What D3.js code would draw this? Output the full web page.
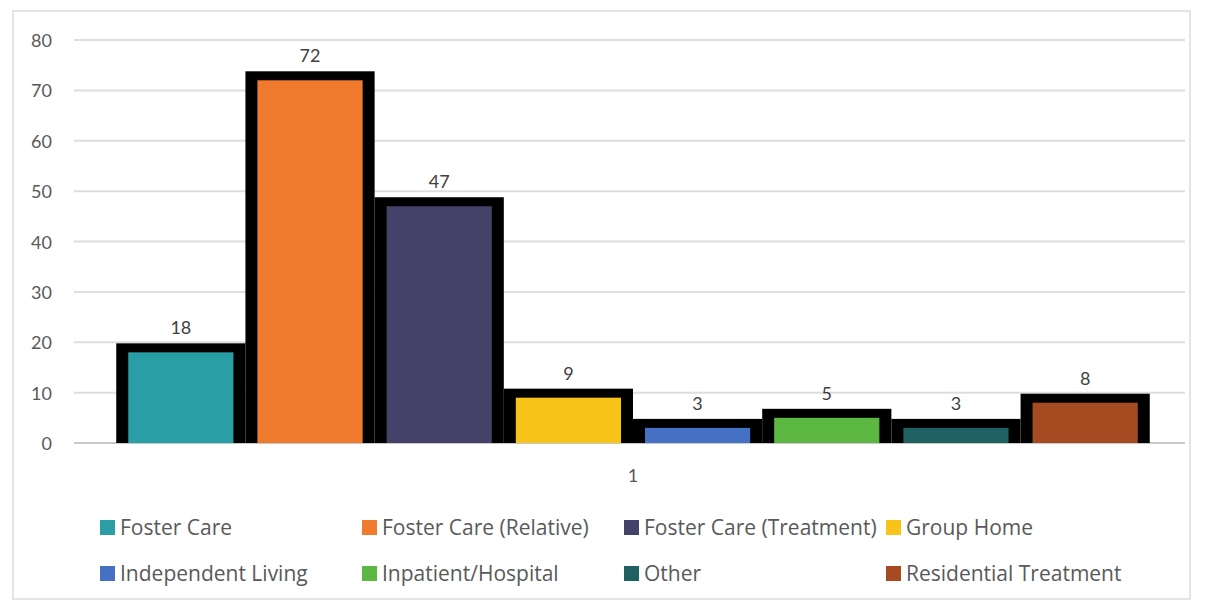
<!DOCTYPE html>
<html>
<head>
<meta charset="utf-8">
<script src="https://cdn.jsdelivr.net/npm/d3@7"></script>
<style>
  body { margin: 0; background: #fff; }
  svg { display: block; }
</style>
</head>
<body>
<svg id="chart" width="1210" height="602"></svg>
<script>
const categories = ["1"];
const seriesNames = ["Foster Care", "Foster Care (Relative)", "Foster Care (Treatment)", "Group Home",
  "Independent Living", "Inpatient/Hospital", "Other", "Residential Treatment"];
const seriesValues = [18, 72, 47, 9, 3, 5, 3, 8];
const seriesColors = ["#2a9ea5", "#f07a2e", "#45426a", "#f9c41a", "#4471c4", "#5db843", "#1f6062", "#a64a22"];
const yTicks = [0, 10, 20, 30, 40, 50, 60, 70, 80];

const svg = d3.select("#chart");
const font = "Lato, 'Open Sans', sans-serif";
const legendFont = "'Open Sans', Lato, sans-serif";

// chart frame
svg.append("rect")
  .attr("x", 13).attr("y", 11)
  .attr("width", 1177).attr("height", 588)
  .attr("fill", "none")
  .attr("stroke", "#dcdcdc")
  .attr("stroke-width", 1.5);

const left = 74, right = 1185;
const y = d3.scaleLinear().domain([0, 80]).range([443, 40]);

// the bar group sits a little right of the plot centre in the original
const x0 = d3.scaleBand().domain(categories).range([left + 4, right + 3]).paddingOuter(0.037);
const x1 = d3.scaleBand().domain(seriesNames).range([0, x0.bandwidth()]);

// gridlines
svg.append("g")
  .selectAll("line")
  .data(yTicks)
  .join("line")
  .attr("x1", left).attr("x2", right)
  .attr("y1", d => y(d)).attr("y2", d => y(d))
  .attr("stroke", d => d === 0 ? "#c8c8c8" : "#dedede")
  .attr("stroke-width", 2);

// y axis labels
svg.append("g")
  .selectAll("text")
  .data(yTicks)
  .join("text")
  .attr("x", 52)
  .attr("y", d => y(d))
  .attr("text-anchor", "end")
  .attr("dominant-baseline", "central")
  .style("font-family", font)
  .style("font-size", "18px")
  .style("fill", "#595959")
  .text(d => d);

const bars = seriesNames.map((name, i) => ({ name: name, value: seriesValues[i], color: seriesColors[i] }));
const inset = 12, topBorder = 9;

categories.forEach(cat => {
  const g = svg.append("g").attr("transform", `translate(${x0(cat)},0)`);

  // thick black outlines first, then fills over them
  g.selectAll("rect.outline")
    .data(bars)
    .join("rect")
    .attr("class", "outline")
    .attr("x", d => x1(d.name))
    .attr("y", d => y(d.value) - topBorder)
    .attr("width", x1.bandwidth())
    .attr("height", d => y(0) - y(d.value) + topBorder)
    .attr("fill", "#000");

  g.selectAll("rect.fill")
    .data(bars)
    .join("rect")
    .attr("class", "fill")
    .attr("x", d => x1(d.name) + inset)
    .attr("y", d => y(d.value))
    .attr("width", x1.bandwidth() - 2 * inset)
    .attr("height", d => y(0) - y(d.value))
    .attr("fill", d => d.color);

  // value labels
  g.selectAll("text.value")
    .data(bars)
    .join("text")
    .attr("class", "value")
    .attr("x", d => x1(d.name) + x1.bandwidth() / 2)
    .attr("y", d => y(d.value) - topBorder - 16)
    .attr("text-anchor", "middle")
    .attr("dominant-baseline", "central")
    .style("font-family", font)
    .style("font-size", "18px")
    .style("fill", "#404040")
    .text(d => d.value);

  // category label
  svg.append("text")
    .attr("x", x0(cat) + x0.bandwidth() / 2)
    .attr("y", 475)
    .attr("text-anchor", "middle")
    .attr("dominant-baseline", "central")
    .style("font-family", font)
    .style("font-size", "18px")
    .style("fill", "#595959")
    .text(cat);
});

// legend, 4 columns x 2 rows
const legend = svg.append("g")
  .selectAll("g")
  .data(bars)
  .join("g")
  .attr("transform", (d, i) => `translate(${100 + (i % 4) * 262},${527 + Math.floor(i / 4) * 46})`);

legend.append("rect")
  .attr("x", 0).attr("y", -7)
  .attr("width", 15).attr("height", 15)
  .attr("fill", d => d.color);

legend.append("text")
  .attr("x", 20)
  .attr("y", 0)
  .attr("dominant-baseline", "central")
  .style("font-family", legendFont)
  .style("font-size", "21px")
  .style("fill", "#595959")
  .text(d => d.name);
</script>
</body>
</html>
